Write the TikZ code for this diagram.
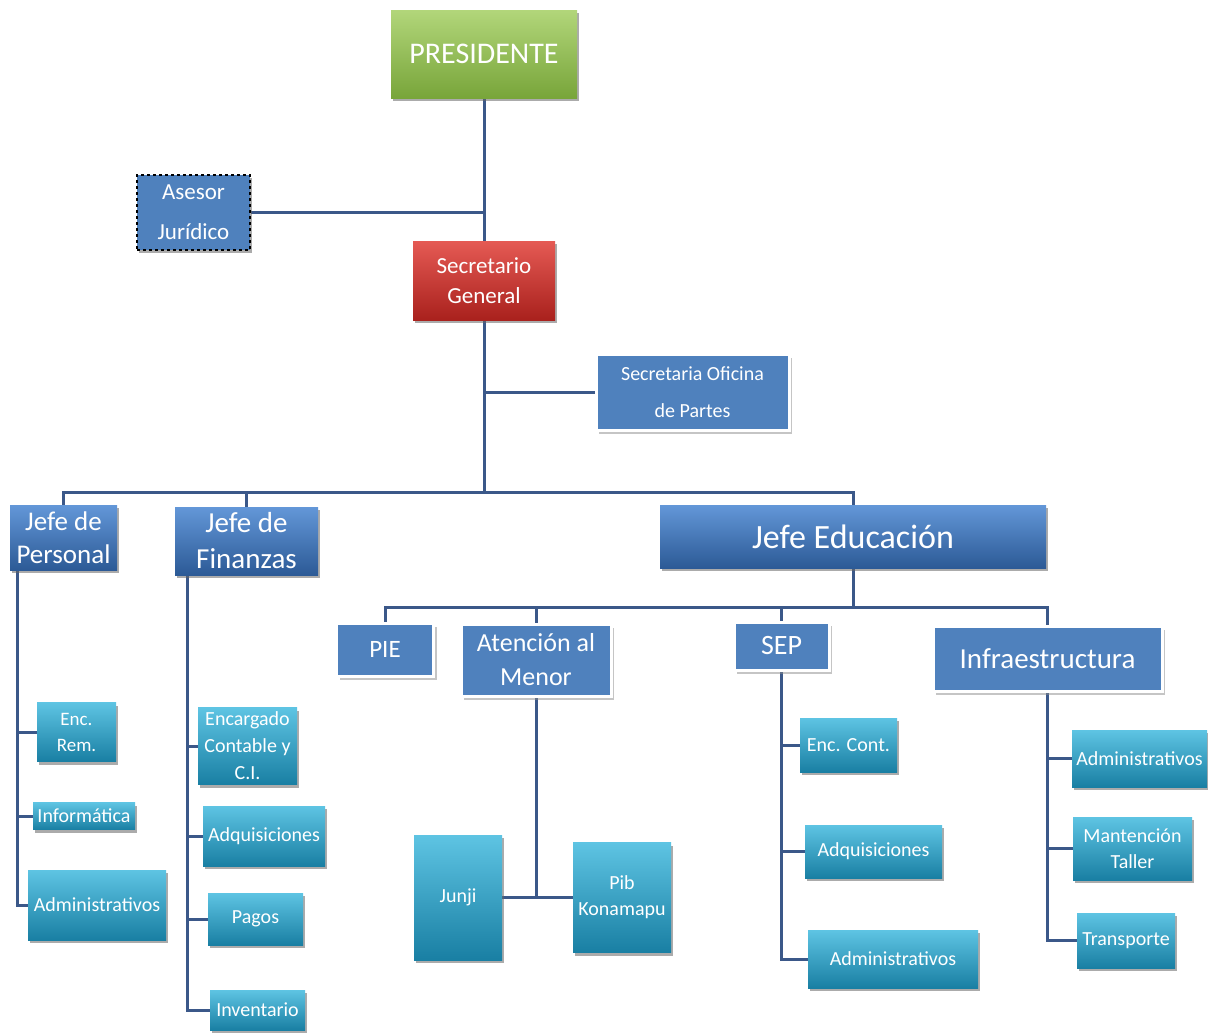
\documentclass[tikz,border=0pt]{standalone}
\usepackage{fontspec}
\setmainfont{Carlito}
\usetikzlibrary{shadows,backgrounds}
\definecolor{conncol}{HTML}{3B5889}
\definecolor{hdrA}{HTML}{6397D8}
\definecolor{hdrB}{HTML}{2C5A96}
\definecolor{cyA}{HTML}{5EC4E3}
\definecolor{cyB}{HTML}{197FA3}
\definecolor{grA}{HTML}{B2D67A}
\definecolor{grB}{HTML}{78A53A}
\definecolor{rdA}{HTML}{E55A54}
\definecolor{rdB}{HTML}{A9211D}
\definecolor{flatblue}{HTML}{4F81BD}
\newcommand\fsz[2]{\fontsize{#1}{#2}\selectfont}
\begin{document}
\begin{tikzpicture}[x=1pt,y=-1pt,
  conn/.style={draw=conncol, line width=3pt},
  boxbase/.style={rectangle, inner sep=1pt, align=center, text=white},
  shad/.style={drop shadow={shadow xshift=2pt,shadow yshift=-3pt,fill=black!60,opacity=.55}},
  hdr/.style={boxbase, top color=hdrA, bottom color=hdrB, shad},
  cybox/.style={boxbase, top color=cyA, bottom color=cyB, shad, font={\fsz{20}{26}}},
  grbox/.style={boxbase, top color=grA, bottom color=grB, shad},
  rdbox/.style={boxbase, top color=rdA, bottom color=rdB, shad},
  wbox/.style={boxbase, fill=flatblue, draw=white, line width=3pt,
    drop shadow={shadow xshift=3pt,shadow yshift=-4pt,fill=black!45,opacity=.5}},
  asbox/.style={boxbase, fill=flatblue, draw=black, dashed, line width=2pt, shad}
]
% top
\node[grbox, minimum width=186pt, minimum height=88pt, font={\fsz{30}{34}}] (pres) at (484,54) {PRESIDENTE};
\node[asbox, minimum width=113pt, minimum height=75pt, font={\fsz{23}{40}}] (ases) at (193.5,212.5) {Asesor\\Jurídico};
\node[rdbox, minimum width=142pt, minimum height=79pt, font={\fsz{23}{30}}] (secg) at (484,280.5) {Secretario\\General};
\node[wbox, minimum width=193pt, minimum height=76pt, font={\fsz{20}{37}}] (secop) at (692.5,392) {Secretaria Oficina\\de Partes};
% jefes
\node[hdr, minimum width=107pt, minimum height=65pt, font={\fsz{27}{33}}] (jp) at (63.5,537.5) {Jefe de\\Personal};
\node[hdr, minimum width=143pt, minimum height=68pt, font={\fsz{29}{36}}] (jf) at (246.5,541) {Jefe de\\Finanzas};
\node[hdr, minimum width=386pt, minimum height=63pt, font={\fsz{34}{38}}] (je) at (853,536.5) {Jefe Educación};
% education units
\node[wbox, minimum width=97pt, minimum height=53pt, font={\fsz{25}{30}}] (pie) at (385,649.5) {PIE};
\node[wbox, minimum width=150pt, minimum height=72pt, font={\fsz{26}{34}}] (atn) at (536,660) {Atención al\\Menor};
\node[wbox, minimum width=95pt, minimum height=48pt, font={\fsz{28}{32}}] (sep) at (781.5,646) {SEP};
\node[wbox, minimum width=229pt, minimum height=65pt, font={\fsz{29}{34}}] (infra) at (1047.5,658.5) {Infraestructura};
% personal children
\node[cybox, minimum width=79pt, minimum height=59pt, font={\fsz{19}{26}}] (encrem) at (76.5,732) {Enc.\\Rem.};
\node[cybox, minimum width=102pt, minimum height=27pt] (inf) at (84,816) {Informática};
\node[cybox, minimum width=138pt, minimum height=70pt] (adm1) at (97,905) {Administrativos};
% finanzas children
\node[cybox, minimum width=99pt, minimum height=77pt, font={\fsz{20}{27}}] (encc) at (247.5,746) {Encargado\\Contable y\\C.I.};
\node[cybox, minimum width=122pt, minimum height=60pt] (adq1) at (264,836) {Adquisiciones};
\node[cybox, minimum width=95pt, minimum height=52pt] (pagos) at (255.5,919) {Pagos};
\node[cybox, minimum width=95pt, minimum height=40pt] (inv) at (257.5,1010) {Inventario};
% atencion children
\node[cybox, minimum width=88pt, minimum height=125pt] (junji) at (458,897.5) {Junji};
\node[cybox, minimum width=98pt, minimum height=110pt] (pib) at (622,897.5) {Pib\\Konamapu};
% sep children
\node[cybox, minimum width=97pt, minimum height=54pt] (encc2) at (848.5,745) {Enc. Cont.};
\node[cybox, minimum width=137pt, minimum height=53pt] (adq2) at (873.5,851.5) {Adquisiciones};
\node[cybox, minimum width=170pt, minimum height=58pt] (adm2) at (893,959) {Administrativos};
% infra children
\node[cybox, minimum width=135pt, minimum height=57pt] (adm3) at (1139.5,758.5) {Administrativos};
\node[cybox, minimum width=119pt, minimum height=63pt] (mant) at (1132.5,848.5) {Mantención\\Taller};
\node[cybox, minimum width=98pt, minimum height=55pt] (trans) at (1126,940.5) {Transporte};
\coordinate (bar) at (484,492);
\coordinate (bar2) at (853,607);
\coordinate (jpL) at ([xshift=8pt]jp.south west);
\coordinate (jfL) at ([xshift=13pt]jf.south west);
\begin{scope}[on background layer]
\fill[white] (0,0) rectangle (1208,1036);
\draw[conn] (pres.south) -- (secg.north);
\draw[conn] (ases.east) -- (ases.east -| pres.south);
\draw[conn] (secg.south) -- (bar);
\draw[conn] (secop.west) -- (secop.west -| secg.south);
\draw[conn] (jp.north) |- (bar) -| (je.north);
\draw[conn] (jf.north) -- (jf.north |- bar);
\draw[conn] (je.south) -- (bar2);
\draw[conn] (pie.north) |- (bar2) -| (infra.north);
\draw[conn] (atn.north) -- (atn.north |- bar2);
\draw[conn] (sep.north) -- (sep.north |- bar2);
\draw[conn] (jpL) |- (encrem.west);
\draw[conn] (jpL) |- (inf.west);
\draw[conn] (jpL) |- (adm1.west);
\draw[conn] (jfL) |- (encc.west);
\draw[conn] (jfL) |- (adq1.west);
\draw[conn] (jfL) |- (pagos.west);
\draw[conn] (jfL) |- (inv.west);
\draw[conn] (atn.south) -- (atn.south |- junji.east);
\draw[conn] (junji.east) -- (pib.west);
\draw[conn] (sep.south) |- (encc2.west);
\draw[conn] (sep.south) |- (adq2.west);
\draw[conn] (sep.south) |- (adm2.west);
\draw[conn] (infra.south) |- (adm3.west);
\draw[conn] (infra.south) |- (mant.west);
\draw[conn] (infra.south) |- (trans.west);
\end{scope}
\useasboundingbox (0,0) rectangle (1208,1036);
\end{tikzpicture}
\end{document}
